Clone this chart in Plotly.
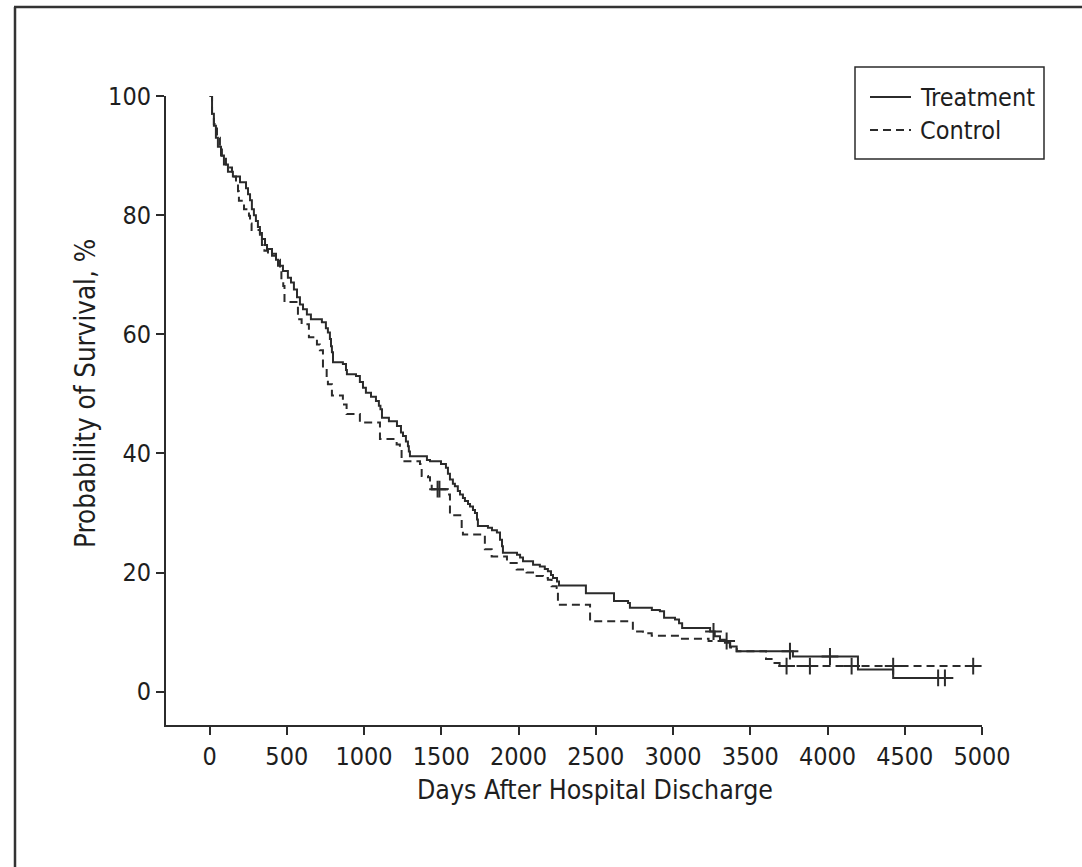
import numpy as np
import plotly.graph_objects as go

# ---- data ----
treat_days = [0, 16, 28, 41, 54, 74, 93, 119, 151, 197, 236, 249, 262, 274, 287, 300, 313, 326, 339, 359,
              372, 404, 430, 443, 475, 507, 527, 546, 566, 585, 605, 630, 656, 727, 753, 766, 779, 786, 792, 799,
              863, 883, 889, 948, 973, 993, 1012, 1045, 1077, 1096, 1106, 1116, 1161, 1213, 1239, 1252, 1271, 1284,
              1290, 1297, 1407, 1427, 1498, 1530, 1543, 1556, 1575, 1588, 1607, 1621, 1640, 1653, 1673, 1686, 1705,
              1718, 1731, 1737, 1802, 1828, 1860, 1880, 1893, 1899, 1990, 2010, 2029, 2094, 2138, 2170, 2190, 2210,
              2223, 2249, 2262, 2436, 2618, 2709, 2721, 2863, 2915, 2942, 3013, 3039, 3059, 3240, 3270, 3304, 3336,
              3368, 3412, 3776, 4197, 4425, 4781]
treat_surv = [100, 97, 95, 93, 91.5, 90, 88.5, 87.3, 86.5, 85.5, 84.5, 83.5, 82.5, 81, 80, 79, 78, 77, 76, 75,
              74.3, 73.2, 72.5, 71.5, 70.6, 69.5, 68.7, 67.5, 66.2, 65, 64.2, 63.3, 62.5, 62, 61, 60.3, 59.2, 58, 57, 55.3,
              55, 54, 53.3, 53, 52, 51, 50.2, 49.5, 48.8, 48, 47.4, 46, 45.4, 44.6, 43.5, 42.9, 42, 41.2,
              40.3, 39.5, 38.9, 38.7, 38.2, 37.6, 36.6, 35.6, 34.9, 34.5, 33.7, 33.1, 32.5, 32, 31.5, 31.1, 30.5,
              30, 28.9, 27.8, 27.5, 27.1, 26.7, 25.5, 24.4, 23.3, 23, 22.5, 21.9, 21.3, 21, 20.6, 20.2, 19.6,
              19.1, 18.5, 17.8, 16.5, 15.2, 14.9, 14.1, 13.7, 13.5, 12.4, 12.1, 11.5, 10.7, 10.1, 9.3, 8.7, 8.2,
              7.6, 6.8, 5.9, 3.7, 2.3, 2.3]
treat_censor_days = [3262, 3757, 4016, 4716, 4760]

ctrl_days = [0, 16, 28, 48, 67, 80, 106, 119, 145, 171, 184, 190, 223, 255, 262, 272, 326, 339, 355, 378,
             430, 456, 465, 477, 485, 572, 596, 643, 695, 714, 734, 758, 766, 792, 863, 887, 973, 1103, 1211, 1232,
             1243, 1362, 1373, 1414, 1427, 1438, 1543, 1556, 1632, 1640, 1782, 1826, 1925, 1988, 2052, 2117, 2158,
             2190, 2214, 2247, 2255, 2463, 2740, 2805, 2862, 3045, 3230, 3370, 3412, 3602, 3638, 3690, 4943]
ctrl_surv = [100, 97, 95.3, 93, 91, 89.7, 88.5, 88, 86.5, 85.5, 84, 82.4, 81, 79.9, 78.6, 77.5, 76, 75, 74, 73.5,
             72.5, 70.6, 69, 68.1, 65.4, 62.5, 61.7, 59.5, 58.3, 57.3, 54.4, 52.8, 51.6, 49.7, 48.2, 46.6, 45.2, 42.4, 41.5, 40.7,
             38.7, 38.2, 36.2, 36, 35.1, 34.0, 33.1, 29.6, 26.9, 26.4, 23.9, 22.7, 21.6, 20.5, 20, 19.4, 19.1,
             18.8, 17.7, 17.4, 14.6, 11.8, 10.1, 9.8, 9.4, 8.9, 8.5, 7.4, 6.8, 5.5, 4.8, 4.3, 4.3]
ctrl_censor_days = [1476, 1488, 3347, 3735, 3886, 4156, 4425, 4943]

series_names = ["Treatment", "Control"]
x_ticks = [0, 500, 1000, 1500, 2000, 2500, 3000, 3500, 4000, 4500, 5000]
y_ticks = [0, 20, 40, 60, 80, 100]

assert len(treat_days) == len(treat_surv)
assert len(ctrl_days) == len(ctrl_surv)


def step_value(days, surv, t):
    idx = np.searchsorted(np.array(days), t, side="right") - 1
    return surv[idx]


FONT = "Liberation Sans Narrow, Arial Narrow, DejaVu Sans Condensed, sans-serif"
INK = "#2b2b2b"
TXT = "#1e1e1e"
DASH = "8px,5px"

fig = go.Figure()
fig.add_trace(go.Scatter(x=treat_days, y=treat_surv, mode="lines", name=series_names[0], showlegend=False,
                         line=dict(shape="hv", color=INK, width=2)))
fig.add_trace(go.Scatter(x=ctrl_days, y=ctrl_surv, mode="lines", name=series_names[1], showlegend=False,
                         line=dict(shape="hv", color=INK, width=2, dash=DASH)))
fig.add_trace(go.Scatter(x=treat_censor_days,
                         y=[step_value(treat_days, treat_surv, t) for t in treat_censor_days],
                         mode="markers", showlegend=False,
                         marker=dict(symbol="cross-thin", size=12, line=dict(width=2, color=INK))))
fig.add_trace(go.Scatter(x=ctrl_censor_days,
                         y=[step_value(ctrl_days, ctrl_surv, t) for t in ctrl_censor_days],
                         mode="markers", showlegend=False,
                         marker=dict(symbol="cross-thin", size=12, line=dict(width=2, color=INK))))

L, R, T, B = 166, 982, 96, 725
W, H = 1082, 867
pw, ph = R - L, B - T


def px(xp):
    return (xp - L) / pw


def py(yp):
    return (B - yp) / ph


shapes = [
    # outer frame (left and top edges)
    dict(type="line", xref="paper", yref="paper", x0=px(15), x1=px(15), y0=py(7), y1=py(H + 5),
         line=dict(color="#333333", width=2.5)),
    dict(type="line", xref="paper", yref="paper", x0=px(14), x1=px(W + 5), y0=py(7), y1=py(7),
         line=dict(color="#333333", width=2.5)),
    # legend box
    dict(type="rect", xref="paper", yref="paper", x0=px(855), x1=px(1044), y0=py(159), y1=py(67),
         line=dict(color=INK, width=1.5), fillcolor="white"),
    # legend samples
    dict(type="line", xref="paper", yref="paper", x0=px(870), x1=px(911), y0=py(97), y1=py(97),
         line=dict(color=INK, width=2)),
    dict(type="line", xref="paper", yref="paper", x0=px(870), x1=px(911), y0=py(130), y1=py(130),
         line=dict(color=INK, width=2, dash=DASH)),
]

annotations = [
    dict(text="Days After Hospital Discharge", xref="paper", yref="paper",
         x=px(595), y=py(790), xanchor="center", yanchor="middle", showarrow=False,
         font=dict(family=FONT, size=26.5, color=TXT)),
    dict(text="Probability of Survival, %", xref="paper", yref="paper",
         x=px(85), y=py(394), xanchor="center", yanchor="middle", showarrow=False, textangle=-90,
         font=dict(family=FONT, size=27.5, color=TXT)),
    dict(text=series_names[0], xref="paper", yref="paper",
         x=px(918), y=py(97), xanchor="left", yanchor="middle", showarrow=False,
         font=dict(family=FONT, size=25, color=TXT)),
    dict(text=series_names[1], xref="paper", yref="paper",
         x=px(918), y=py(130), xanchor="left", yanchor="middle", showarrow=False,
         font=dict(family=FONT, size=25, color=TXT)),
]

fig.update_layout(
    width=W, height=H,
    margin=dict(l=L, r=W - R, t=T, b=H - B, pad=0),
    paper_bgcolor="white", plot_bgcolor="white",
    font=dict(family=FONT, size=25, color=TXT),
    showlegend=False,
    xaxis=dict(range=[-282, 5000], tickvals=x_ticks, ticktext=[str(v) for v in x_ticks],
               showline=True, linecolor=INK, linewidth=2, ticks="outside", ticklen=8, tickwidth=2,
               tickcolor=INK, showgrid=False, zeroline=False, mirror=False,
               tickfont=dict(family=FONT, size=25, color=TXT)),
    yaxis=dict(range=[-5.6, 100], tickvals=y_ticks, ticktext=[str(v) for v in y_ticks],
               showline=True, linecolor=INK, linewidth=2, ticks="outside", ticklen=8, tickwidth=2,
               tickcolor=INK, showgrid=False, zeroline=False, mirror=False,
               tickfont=dict(family=FONT, size=25, color=TXT)),
    annotations=annotations,
    shapes=shapes,
)

fig.write_html("out.html")
